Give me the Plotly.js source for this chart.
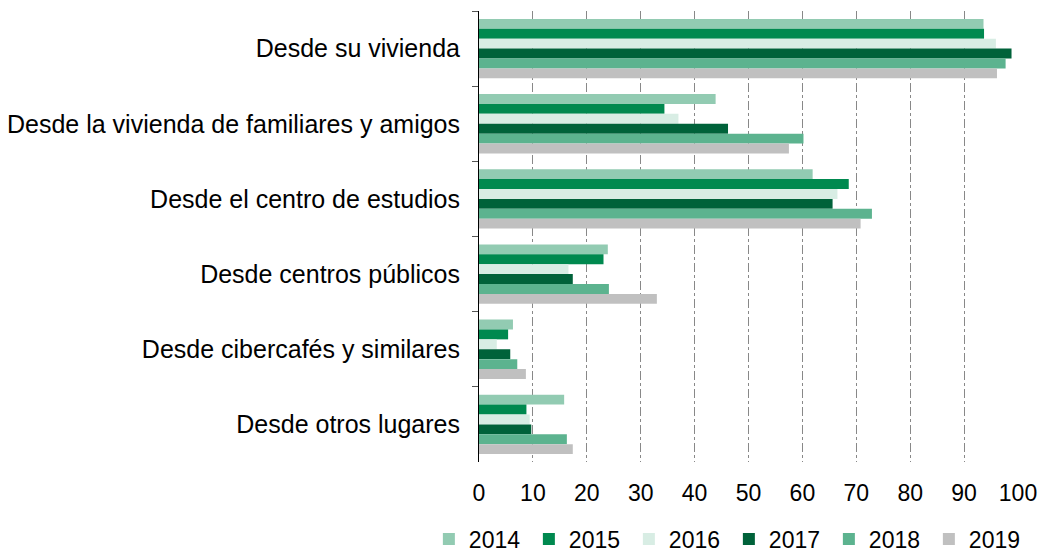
<!DOCTYPE html>
<html>
<head>
<meta charset="utf-8">
<script src="https://cdn.plot.ly/plotly-3.0.1.min.js"></script>
<style>
  html, body { margin: 0; padding: 0; background: #fff; overflow: hidden; }
  #chart { width: 1042px; height: 575px; }
</style>
</head>
<body>
<div id="chart"></div>
<script>
// Lugares de uso de Internet (%), por año
const categories = [
  'Desde su vivienda',
  'Desde la vivienda de familiares y amigos',
  'Desde el centro de estudios',
  'Desde centros públicos',
  'Desde cibercafés y similares',
  'Desde otros lugares'
];

const years = ['2014', '2015', '2016', '2017', '2018', '2019'];

const v2014 = [93.6, 43.9, 61.9, 23.9, 6.3, 15.8];
const v2015 = [93.7, 34.4, 68.6, 23.1, 5.4, 8.8];
const v2016 = [95.9, 37.0, 66.5, 16.6, 3.3, 9.4];
const v2017 = [98.8, 46.2, 65.6, 17.4, 5.8, 9.7];
const v2018 = [97.7, 60.2, 72.9, 24.1, 7.1, 16.3];
const v2019 = [96.1, 57.5, 70.8, 33.0, 8.7, 17.4];

const values = [v2014, v2015, v2016, v2017, v2018, v2019];
const colors = ['#92cbb2', '#00894f', '#d8ede4', '#00623a', '#5cb38f', '#c0c0c0'];

const traces = years.map((yr, i) => ({
  type: 'bar',
  orientation: 'h',
  name: yr,
  y: categories,
  x: values[i],
  marker: { color: colors[i], line: { width: 0 } },
  hovertemplate: '%{y}<br>' + yr + ': %{x}<extra></extra>'
}));

// the div is a bit taller than the window so the legend box doesn't push the bottom margin
const layout = {
  width: 1042,
  height: 575,
  margin: { l: 479, r: 24, t: 11, b: 113 },
  paper_bgcolor: '#fff',
  plot_bgcolor: '#fff',
  font: { family: 'Liberation Sans, Arial, sans-serif', size: 25, color: '#000' },
  barmode: 'group',
  bargap: 0.21,
  bargroupgap: 0,
  showlegend: true,
  legend: {
    orientation: 'h',
    x: -0.093,
    xanchor: 'left',
    y: -0.171,
    yanchor: 'middle',
    font: { size: 23 },
    traceorder: 'normal',
    itemwidth: 30,
    entrywidth: 55,
    entrywidthmode: 'pixels'
  },
  xaxis: {
    range: [0, 100],
    dtick: 10,
    showgrid: true,
    gridcolor: '#888',
    griddash: 'dashdot',
    gridwidth: 1,
    zeroline: false,
    showline: false,
    ticks: '',
    ticklabelstandoff: 15,
    tickfont: { size: 23 },
    fixedrange: true
  },
  yaxis: {
    autorange: 'reversed',
    showline: true,
    linecolor: '#000',
    linewidth: 1,
    ticks: 'outside',
    ticklen: 6,
    tickcolor: '#555',
    tickson: 'boundaries',
    ticklabelstandoff: 13,
    showgrid: false,
    fixedrange: true
  }
};

Plotly.newPlot('chart', traces, layout, { displayModeBar: false, staticPlot: true });
</script>
</body>
</html>
